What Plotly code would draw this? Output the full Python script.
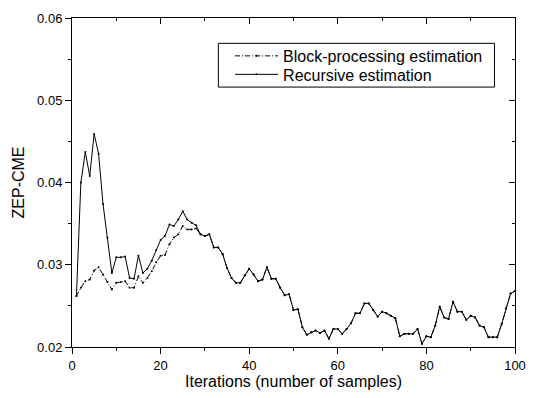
import plotly.graph_objects as go

iterations = list(range(1, 101))

recursive = [
    0.0262, 0.0400, 0.0437, 0.0408, 0.0459, 0.0435, 0.0374, 0.0333, 0.0290, 0.0309,
    0.0309, 0.0310, 0.0284, 0.0283, 0.0311, 0.0290, 0.0295, 0.0305, 0.0318, 0.0330,
    0.0335, 0.0349, 0.0347, 0.0355, 0.0365, 0.0355, 0.0351, 0.0348, 0.0337, 0.0335,
    0.0337, 0.0321, 0.0321, 0.0313, 0.0296, 0.0284, 0.0278, 0.0278, 0.0287, 0.0295,
    0.0288, 0.0280, 0.0282, 0.0297, 0.0283, 0.0283, 0.0272, 0.0263, 0.0264, 0.0245,
    0.0246, 0.0224, 0.0215, 0.0218, 0.0220, 0.0217, 0.0220, 0.0210, 0.0222, 0.0222,
    0.0216, 0.0222, 0.0229, 0.0241, 0.0241, 0.0253, 0.0253, 0.0245, 0.0237, 0.0243,
    0.0241, 0.0238, 0.0235, 0.0213, 0.0216, 0.0216, 0.0216, 0.0222, 0.0204, 0.0213,
    0.0212, 0.0226, 0.0249, 0.0236, 0.0234, 0.0255, 0.0243, 0.0243, 0.0233, 0.0238,
    0.0236, 0.0226, 0.0224, 0.0212, 0.0212, 0.0212, 0.0228, 0.0247, 0.0265, 0.0268,
]

block = [
    0.0262, 0.0272, 0.0280, 0.0282, 0.0293, 0.0297, 0.0288, 0.0279, 0.0270, 0.0278,
    0.0279, 0.0280, 0.0272, 0.0272, 0.0286, 0.0278, 0.0284, 0.0292, 0.0303, 0.0311,
    0.0312, 0.0325, 0.0333, 0.0337, 0.0347, 0.0343, 0.0343, 0.0344, 0.0337, 0.0335,
    0.0337, 0.0321, 0.0321, 0.0313, 0.0296, 0.0284, 0.0278, 0.0278, 0.0287, 0.0295,
    0.0288, 0.0280, 0.0282, 0.0297, 0.0283, 0.0283, 0.0272, 0.0263, 0.0264, 0.0245,
    0.0246, 0.0224, 0.0215, 0.0218, 0.0220, 0.0217, 0.0220, 0.0210, 0.0222, 0.0222,
    0.0216, 0.0222, 0.0229, 0.0241, 0.0241, 0.0253, 0.0253, 0.0245, 0.0237, 0.0243,
    0.0241, 0.0238, 0.0235, 0.0213, 0.0216, 0.0216, 0.0216, 0.0222, 0.0204, 0.0213,
    0.0212, 0.0226, 0.0249, 0.0236, 0.0234, 0.0255, 0.0243, 0.0243, 0.0233, 0.0238,
    0.0236, 0.0226, 0.0224, 0.0212, 0.0212, 0.0212, 0.0228, 0.0247, 0.0265, 0.0268,
]

series_names = ["Block-processing estimation", "Recursive estimation"]
x_title = "Iterations (number of samples)"
y_title = "ZEP-CME"

FONT = "Liberation Sans, Arial, sans-serif"

fig = go.Figure()
fig.add_trace(go.Scatter(
    x=iterations, y=block, name=series_names[0], mode="lines+markers",
    line=dict(color="black", width=1, dash="5px,2px,1px,2px"),
    marker=dict(size=2, color="black"), legend="legend",
))
fig.add_trace(go.Scatter(
    x=iterations, y=recursive, name=series_names[1], mode="lines+markers",
    line=dict(color="black", width=1),
    marker=dict(size=2, color="black"), legend="legend2",
))
# helper trace so that the mirrored (top/right) axes are drawn
fig.add_trace(go.Scatter(x=[None], y=[None], xaxis="x2", yaxis="y2",
                         showlegend=False, hoverinfo="skip"))

axis_common = dict(showgrid=False, zeroline=False, showline=True,
                   linecolor="black", linewidth=1, tickcolor="black",
                   tickwidth=1, ticklen=6,
                   tickfont=dict(family=FONT, size=13, color="black"))

legend_common = dict(xanchor="left", yanchor="middle",
                     bgcolor="rgba(0,0,0,0)", borderwidth=0, itemwidth=43,
                     font=dict(family=FONT, size=16, color="black"))

fig.update_layout(
    width=537, height=398,
    margin=dict(l=72, r=11, t=11, b=49),
    paper_bgcolor="white", plot_bgcolor="white",
    font=dict(family=FONT, color="black"),
    xaxis=dict(range=[0, 100], tick0=0, dtick=20, ticks="outside",
               minor=dict(dtick=10, ticks="outside", ticklen=3, tickcolor="black"),
               title=dict(text=x_title, font=dict(family=FONT, size=16), standoff=3),
               **axis_common),
    yaxis=dict(range=[0.02, 0.06], tick0=0.02, dtick=0.01, ticks="outside",
               tickformat=".2f",
               minor=dict(dtick=0.005, ticks="outside", ticklen=3, tickcolor="black"),
               title=dict(text=y_title, font=dict(family=FONT, size=16), standoff=8),
               **axis_common),
    xaxis2=dict(overlaying="x", side="top", range=[0, 100], tick0=0, dtick=20,
                ticks="inside", showticklabels=False,
                minor=dict(dtick=10, ticks="inside", ticklen=3, tickcolor="black"),
                **axis_common),
    yaxis2=dict(overlaying="y", side="right", range=[0.02, 0.06], tick0=0.02,
                dtick=0.01, ticks="inside", showticklabels=False,
                minor=dict(dtick=0.005, ticks="inside", ticklen=3, tickcolor="black"),
                **axis_common),
    legend=dict(x=(234 - 72) / 454, y=(349 - 50) / 338, **legend_common),
    legend2=dict(x=(234 - 72) / 454, y=(349 - 69) / 338, **legend_common),
    shapes=[dict(type="rect", xref="paper", yref="paper",
                 x0=0.3304, x1=0.9537, y0=0.790, y1=0.923,
                 line=dict(color="black", width=1), fillcolor="white",
                 layer="below")],
    showlegend=True,
)

fig.write_html("out.html")
